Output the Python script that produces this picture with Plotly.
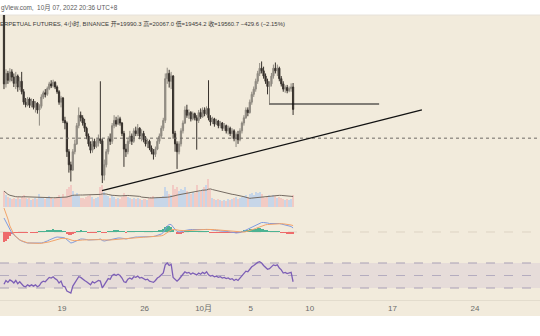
import plotly.graph_objects as go
import pandas as pd

# ---------------- data (4h candles) ----------------
times = pd.date_range("2022-09-14 02:00", periods=148, freq="4h")
first_open = 21400
closes = [20050, 20250, 20120, 20280, 20180, 20060, 20200, 19990, 20100, 19900,
          19700, 19650, 19760, 19640, 19720, 19600, 19680, 19550, 19620, 19800,
          19880, 19850, 19960, 20050, 20010, 20080, 19990, 19900, 19700, 19780,
          19350, 19300, 18750, 18500, 18400, 18750, 18900, 19250, 19450, 19400,
          19300, 19200, 19050, 18900, 18780, 18950, 18850, 18920, 19000, 18960,
          18300, 18500, 18750, 19000, 18950, 19250, 19350, 19280, 19380, 19300,
          19100, 18800, 18750, 18950, 19050, 18950, 19150, 19100, 19200, 19050,
          19100, 18980, 18900, 18950, 18820, 18750, 18700, 18800, 18950, 19050,
          19200, 19350, 20150, 20250, 20100, 20200, 19100, 18900, 18750, 18900,
          19150, 19300, 19550, 19450, 19500, 19380, 19480, 19400, 19350, 19500,
          19420, 19550, 19480, 19580, 19400, 19320, 19380, 19280, 19340, 19250,
          19300, 19200, 19250, 19150, 19200, 19100, 19150, 19000, 19080, 18980,
          19150, 19300, 19400, 19550, 19500, 19700, 19850, 19950, 20100, 20250,
          20350, 20300, 20200, 20100, 20000, 20050, 20200, 20350, 20300, 20350,
          20150, 20050, 19950, 19980, 19920, 19960, 19990.3, 19560.7]
highs = [21520, 20330, 20300, 20350, 20330, 20250, 20280, 20230, 20180, 20280,
         19950, 19780, 19800, 19790, 19770, 19760, 19720, 19700, 19660, 19850,
         19920, 19950, 20000, 20090, 20120, 20130, 20100, 20020, 19930, 19820,
         19800, 19420, 19330, 18800, 18560, 18800, 18980, 19300, 19600, 19520,
         19450, 19380, 19230, 19100, 18950, 19000, 19000, 18990, 19080, 20100,
         19000, 18600, 18800, 19050, 19100, 19300, 19450, 19420, 19450, 19420,
         19320, 19150, 18900, 19000, 19150, 19100, 19200, 19230, 19280, 19220,
         19180, 19150, 19050, 19000, 18980, 18870, 18800, 18850, 19000, 19100,
         19250, 19400, 20250, 20360, 20320, 20280, 20220, 19150, 18950, 18950,
         19200, 19350, 19620, 19650, 19560, 19530, 19520, 19500, 19450, 19550,
         19580, 19600, 19600, 19620, 20120, 19450, 19420, 19400, 19380, 19360,
         19340, 19320, 19300, 19270, 19250, 19230, 19200, 19180, 19120, 19150,
         19200, 19330, 19450, 19600, 19600, 19750, 19900, 20000, 20150, 20300,
         20450, 20480, 20380, 20250, 20150, 20100, 20260, 20420, 20460, 20420,
         20380, 20200, 20100, 20020, 20030, 20000, 20060, 20067.0]
lows = [19950, 19980, 20050, 20080, 20100, 19990, 19950, 19900, 19930, 19850,
        19650, 19600, 19620, 19590, 19600, 19560, 19500, 19480, 19250, 19580,
        19760, 19790, 19820, 19930, 19970, 19980, 19950, 19860, 19650, 19600,
        19300, 19180, 18650, 18350, 18180, 18380, 18700, 18880, 19200, 19330,
        19250, 19130, 18990, 18850, 18720, 18730, 18800, 18820, 18850, 18900,
        18150, 18200, 18450, 18700, 18880, 18900, 19200, 19230, 19260, 19250,
        19050, 18460, 18650, 18700, 18900, 18880, 18920, 19050, 19050, 18990,
        18950, 18930, 18850, 18820, 18780, 18700, 18600, 18650, 18780, 18900,
        19000, 19150, 19300, 20050, 19980, 19950, 19000, 18750, 18420, 18700,
        18850, 19100, 19280, 19400, 19380, 19330, 19350, 19350, 18790, 19300,
        19380, 19400, 19430, 19450, 19350, 19250, 19280, 19230, 19260, 19200,
        19200, 19150, 19150, 19100, 19080, 19050, 19000, 18950, 18840, 18900,
        18950, 19100, 19250, 19380, 19430, 19480, 19650, 19800, 19900, 20050,
        20200, 20250, 20150, 20050, 19850, 19680, 20000, 20150, 20250, 20200,
        20100, 20000, 19900, 19880, 19870, 19890, 19900, 19454.2]
volumes = [80, 60, 50, 45, 40, 45, 40, 50, 40, 55,
           60, 45, 40, 45, 35, 40, 45, 40, 65, 50,
           45, 40, 50, 55, 45, 40, 45, 50, 60, 45,
           65, 50, 90, 100, 110, 80, 60, 70, 55, 45,
           45, 40, 50, 55, 60, 50, 40, 45, 50, 100,
           110, 75, 60, 55, 45, 60, 50, 40, 45, 40,
           50, 70, 60, 50, 45, 40, 45, 40, 45, 40,
           35, 40, 40, 35, 45, 50, 55, 45, 50, 45,
           50, 55, 100, 80, 65, 60, 110, 90, 100, 80,
           90, 85, 100, 80, 70, 65, 75, 70, 110, 75,
           80, 90, 100, 110, 140, 90, 45, 40, 35, 40,
           35, 30, 35, 30, 40, 35, 40, 45, 50, 40,
           45, 50, 55, 60, 50, 65, 70, 60, 75, 70,
           75, 65, 50, 45, 55, 60, 50, 60, 55, 45,
           50, 45, 40, 35, 40, 35, 40, 60]
macd = [280, 200, 120, 40, -20, -60, -100, -134, -160, -180,
        -200, -210, -220, -220, -226, -230, -230, -230, -224, -220,
        -210, -200, -180, -160, -140, -120, -110, -100, -100, -100,
        -110, -120, -160, -200, -220, -210, -190, -170, -150, -140,
        -140, -140, -150, -160, -160, -160, -160, -160, -150, -140,
        -170, -180, -170, -160, -150, -140, -130, -120, -120, -120,
        -120, -130, -140, -130, -120, -120, -110, -100, -100, -100,
        -90, -90, -90, -90, -90, -90, -90, -80, -70, -60,
        -40, -10, 60, 120, 150, 150, 100, 50, 10, 0,
        0, 10, 30, 40, 50, 50, 50, 50, 50, 50,
        50, 50, 60, 60, 60, 50, 40, 40, 30, 30,
        20, 20, 20, 10, 10, 0, 0, -10, -20, -20,
        -10, 0, 20, 40, 60, 80, 100, 120, 140, 160,
        180, 190, 190, 190, 180, 170, 170, 180, 180, 180,
        170, 160, 150, 140, 130, 120, 110, 80]
signal = [480, 380, 260, 120, 20, -40, -90, -130, -156, -176,
          -194, -206, -216, -220, -224, -228, -229, -229, -228, -226,
          -222, -216, -208, -198, -186, -172, -160, -148, -138, -130,
          -126, -124, -130, -144, -160, -170, -174, -174, -170, -164,
          -160, -158, -156, -156, -156, -156, -156, -156, -154, -152,
          -156, -160, -162, -162, -160, -156, -152, -146, -142, -138,
          -134, -132, -134, -132, -130, -128, -124, -120, -116, -112,
          -108, -104, -102, -100, -98, -96, -94, -92, -88, -84,
          -76, -64, -40, -10, 20, 40, 50, 50, 42, 34,
          28, 24, 26, 28, 32, 36, 38, 40, 42, 44,
          46, 46, 50, 52, 54, 54, 50, 48, 44, 40,
          36, 32, 28, 24, 20, 16, 12, 6, 0, -4,
          -6, -6, -2, 6, 16, 28, 40, 56, 72, 88,
          104, 120, 134, 144, 150, 154, 158, 162, 166, 168,
          168, 166, 164, 160, 154, 148, 140, 128]
rsi = [36, 42, 39, 43, 41, 38, 42, 37, 40, 36,
       33, 32, 35, 33, 35, 33, 35, 32, 34, 39,
       41, 40, 44, 47, 46, 48, 45, 43, 38, 41,
       33, 32, 25, 23, 22, 33, 38, 45, 48, 47,
       44, 42, 40, 37, 35, 40, 38, 40, 42, 41,
       30, 35, 40, 45, 44, 50, 52, 50, 52, 50,
       46, 40, 39, 44, 46, 44, 48, 47, 49, 46,
       47, 45, 43, 44, 41, 40, 39, 42, 46, 48,
       51, 54, 67, 70, 66, 68, 47, 44, 41, 44,
       49, 52, 56, 54, 55, 52, 54, 52, 51, 54,
       52, 55, 53, 56, 51, 49, 50, 48, 49, 47,
       48, 46, 47, 45, 46, 44, 45, 42, 44, 42,
       46, 50, 53, 57, 56, 61, 64, 66, 69, 71,
       72, 70, 66, 63, 60, 61, 64, 67, 66, 67,
       62, 59, 54, 55, 53, 54, 55, 40]

# drawings
level_price = 19010
hline_price = 19665
hline_t = ["2022-10-06 13:00", "2022-10-15 21:00"]
trend_t = ["2022-09-22 09:20", "2022-10-19 12:00"]
trend_p = [18003, 19550]

tick_dates = ["2022-09-19", "2022-09-26", "2022-10-01", "2022-10-05", "2022-10-10",
              "2022-10-17", "2022-10-24"]
tick_text = ["19", "26", "10月", "5", "10", "17", "24"]

opens = [first_open] + closes[:-1]
up = [c >= o for o, c in zip(opens, closes)]
vol_ma = pd.Series(volumes).rolling(20, min_periods=1).mean()
hist = [m - s for m, s in zip(macd, signal)]

CREAM = "#f2ebdc"
UPC = "#8f8a81"
DNC = "#37312c"

fig = go.Figure()
bw = 4 * 3600 * 1000 * 0.62
fig.add_trace(go.Bar(x=times, y=volumes, width=bw, yaxis="y",
                     marker=dict(color=["#c7d6e8" if u else "#f2cbc4" for u in up], line_width=0),
                     showlegend=False))
fig.add_trace(go.Scatter(x=times, y=vol_ma, yaxis="y", mode="lines",
                         line=dict(color="#756b62", width=1), showlegend=False))
fig.add_trace(go.Candlestick(x=times, open=opens, high=highs, low=lows, close=closes,
                             yaxis="y2",
                             increasing=dict(line=dict(color=UPC, width=1), fillcolor=UPC),
                             decreasing=dict(line=dict(color=DNC, width=1), fillcolor=DNC),
                             whiskerwidth=0, showlegend=False))
fig.add_trace(go.Bar(x=times, y=hist, width=bw, yaxis="y3",
                     marker=dict(color=["#4db393" if h >= 0 else "#ee6b6b" for h in hist], line_width=0),
                     showlegend=False))
fig.add_trace(go.Scatter(x=times, y=macd, yaxis="y3", mode="lines",
                         line=dict(color="#7f9be0", width=1), showlegend=False))
fig.add_trace(go.Scatter(x=times, y=signal, yaxis="y3", mode="lines",
                         line=dict(color="#f2a46b", width=1), showlegend=False))
fig.add_trace(go.Scatter(x=times, y=rsi, yaxis="y4", mode="lines",
                         line=dict(color="#7d5fb6", width=1.3), showlegend=False))

H = 336.0
def py(px):
    return 1 - px / H

shapes = [
    dict(type="rect", xref="paper", yref="paper", x0=0, x1=1, y0=py(316), y1=py(15),
         fillcolor=CREAM, line_width=0, layer="below"),
    dict(type="line", xref="paper", yref="paper", x0=0, x1=1, y0=py(15), y1=py(15),
         line=dict(color="#e6e2da", width=1), layer="below"),
    dict(type="line", xref="paper", yref="paper", x0=0, x1=1, y0=py(300.5), y1=py(300.5),
         line=dict(color="#e3dccd", width=1), layer="below"),
    dict(type="line", xref="paper", yref="y3", x0=0, x1=1, y0=0, y1=0,
         line=dict(color="#ddd3c3", width=1, dash="dash"), layer="below"),
    dict(type="rect", xref="paper", yref="y4", x0=0, x1=1, y0=30, y1=70,
         fillcolor="rgba(126,87,194,0.10)", line_width=0, layer="below"),
    dict(type="line", xref="paper", yref="y4", x0=0, x1=1, y0=70, y1=70,
         line=dict(color="#a89fb5", width=1, dash="dash"), layer="below"),
    dict(type="line", xref="paper", yref="y4", x0=0, x1=1, y0=50, y1=50,
         line=dict(color="#b4acbf", width=1, dash="dash"), layer="below"),
    dict(type="line", xref="paper", yref="y4", x0=0, x1=1, y0=30, y1=30,
         line=dict(color="#a89fb5", width=1, dash="dash"), layer="below"),
    dict(type="line", xref="paper", yref="y2", x0=0, x1=1, y0=level_price, y1=level_price,
         line=dict(color="#6e6a64", width=1, dash="dot")),
    dict(type="line", xref="x", yref="y2", x0=hline_t[0], x1=hline_t[1], y0=hline_price, y1=hline_price,
         line=dict(color="#111111", width=1.2)),
    dict(type="line", xref="x", yref="y2", x0=trend_t[0], x1=trend_t[1], y0=trend_p[0], y1=trend_p[1],
         line=dict(color="#111111", width=1.3)),
]

FONT = "Liberation Sans Narrow, Liberation Sans, Noto Sans CJK SC, sans-serif"
annotations = [
    dict(xref="paper", yref="paper", x=-0.002, y=py(7.5), xanchor="left", yanchor="middle",
         text="gView.com,  10月 07, 2022 20:36 UTC+8", showarrow=False,
         font=dict(family=FONT, size=6.4, color="#5a5a5a")),
    dict(xref="paper", yref="paper", x=-0.004, y=py(24), xanchor="left", yanchor="middle",
         text="ERPETUAL FUTURES, 4小时, BINANCE 开=19990.3 高=20067.0 低=19454.2 收=19560.7 −429.6 (−2.15%)",
         showarrow=False, font=dict(family=FONT, size=5.95, color="#3a3a3a")),
]

hidden = dict(showgrid=False, zeroline=False, showticklabels=False, showline=False,
              ticks="", fixedrange=True)
fig.update_layout(
    width=540, height=336, margin=dict(l=0, r=0, t=0, b=0),
    paper_bgcolor="white", plot_bgcolor="rgba(0,0,0,0)",
    bargap=0, boxgap=0.12, showlegend=False,
    xaxis=dict(type="date", range=["2022-09-13 17:54", "2022-10-29 12:12"],
               tickmode="array", tickvals=tick_dates, ticktext=tick_text,
               showgrid=False, zeroline=False, showline=False, ticks="",
               anchor="free", position=py(302),
               tickfont=dict(family=FONT, size=8, color="#6b6b6b"),
               rangeslider=dict(visible=False), fixedrange=True),
    yaxis=dict(domain=[py(207), py(15)], range=[0, 960], anchor="x", **hidden),
    yaxis2=dict(overlaying="y", range=[17691, 21370], anchor="x", **hidden),
    yaxis3=dict(domain=[py(254), py(208)], range=[-440, 480], anchor="x", **hidden),
    yaxis4=dict(domain=[py(300), py(255)], range=[10.8, 82.8], anchor="x", **hidden),
    shapes=shapes, annotations=annotations,
)

fig.write_html("out.html")
